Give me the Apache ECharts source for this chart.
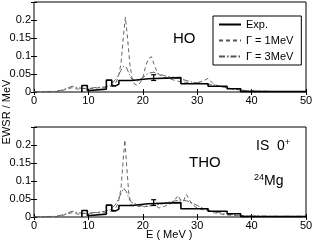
<!DOCTYPE html>
<html><head><meta charset="utf-8">
<script src="https://cdn.jsdelivr.net/npm/echarts@6/dist/echarts.min.js"></script>
<style>html,body{margin:0;padding:0;background:#fff}#c{width:316px;height:245px}</style>
</head><body><div id="c"></div>
<script>
// ---- data ----
const xTicks = [0, 10, 20, 30, 40, 50];
const yTicks = [0, 0.05, 0.1, 0.15, 0.2];
const seriesNames = ['Exp.', '\u0393 = 1MeV', '\u0393 = 3MeV'];

// experimental histogram (bin edges and bin values), same in both panels
const expEdges = [8.8, 9.8, 10.3, 13.3, 14.3, 15.0, 15.6, 18, 21, 27, 32, 35.5, 38, 50];
const expVals  = [0.018, 0.004, 0.008, 0.033, 0.017, 0.022, 0.032, 0.037, 0.04, 0.023, 0.016, 0.009, 0.001];
const errE = [22], errV = [0.04], errD = [0.008];

// HO panel, Gamma = 1 MeV
const hoG1E = [0,2,4,5,6,7,8,9,10,11,12,13,14,15,15.5,16,16.4,16.8,17.2,17.6,18,18.5,19,19.5,20,20.5,21,21.6,22,22.5,23,24,25,26,27,28,29,30,31,32,33,34,35,36,37,38,40,42,45,50];
const hoG1V = [0,0,0.001,0.003,0.008,0.012,0.008,0.01,0.008,0.01,0.012,0.012,0.015,0.025,0.04,0.08,0.15,0.208,0.15,0.08,0.04,0.022,0.018,0.025,0.04,0.07,0.092,0.098,0.08,0.06,0.048,0.04,0.036,0.032,0.028,0.027,0.024,0.026,0.03,0.038,0.022,0.016,0.013,0.01,0.008,0.005,0.003,0.002,0.001,0.001];
// HO panel, Gamma = 3 MeV
const hoG3E = [0,2,4,5,6,7,8,9,10,11,12,13,14,15,16,16.5,17,17.5,18,19,20,21,22,23,24,25,26,27,28,29,30,31,32,33,34,35,36,37,38,40,42,45,50];
const hoG3V = [0,0.001,0.002,0.005,0.01,0.016,0.012,0.01,0.01,0.012,0.013,0.014,0.018,0.035,0.06,0.072,0.068,0.05,0.035,0.03,0.04,0.052,0.055,0.05,0.045,0.042,0.04,0.036,0.032,0.028,0.026,0.024,0.022,0.02,0.016,0.013,0.01,0.007,0.005,0.003,0.002,0.001,0.001];
// THO panel, Gamma = 1 MeV
const thoG1E = [0,2,4,5,6,7,8,9,10,11,12,13,14,15,15.5,16,16.4,16.7,17,17.4,17.8,18.3,19,20,21,22,23,24,25,26,26.5,27,27.5,28,28.5,29,30,31,32,33,34,35,36,37,38,40,42,45,50];
const thoG1V = [0,0,0.001,0.003,0.008,0.012,0.008,0.01,0.01,0.012,0.012,0.012,0.015,0.025,0.04,0.08,0.16,0.214,0.15,0.07,0.035,0.03,0.03,0.028,0.03,0.035,0.025,0.03,0.035,0.05,0.06,0.045,0.045,0.063,0.05,0.035,0.025,0.02,0.018,0.012,0.01,0.006,0.005,0.004,0.003,0.002,0.002,0.001,0.001];
// THO panel, Gamma = 3 MeV
const thoG3E = [0,2,4,5,6,7,8,9,10,11,12,13,14,15,16,16.5,17,17.5,18,19,20,21,22,23,24,25,26,27,28,29,30,31,32,33,34,35,36,38,40,42,45,50];
const thoG3V = [0,0.001,0.002,0.005,0.01,0.016,0.012,0.01,0.01,0.012,0.014,0.016,0.02,0.035,0.065,0.08,0.07,0.05,0.04,0.035,0.03,0.03,0.032,0.035,0.038,0.042,0.045,0.047,0.045,0.04,0.032,0.025,0.02,0.015,0.012,0.009,0.007,0.004,0.003,0.002,0.002,0.002];

// ---- build ----
const pairs = (xs, ys) => xs.map((x, i) => [x, ys[i]]);
const expData = [[expEdges[0], 0]].concat(expEdges.map((e, i) => [e, i < expVals.length ? expVals[i] : expVals[expVals.length - 1]]));
const FONT = 'Liberation Sans, Arial, sans-serif';
const DASH = [4, 3];
const DASHDOT = [6, 2, 1.5, 2];
const THIN = '#555';

function xAx(grid, pos, labels) {
  return {type: 'value', gridIndex: grid, position: pos, min: 0, max: 50, interval: 10,
    axisLine: {show: false}, splitLine: {show: false},
    axisTick: {show: true, inside: true, length: 3, lineStyle: {color: '#000'}},
    axisLabel: {show: labels, color: '#000', fontFamily: FONT, fontSize: 11, margin: 3}};
}
function yAx(grid, pos, labels) {
  return {type: 'value', gridIndex: grid, position: pos, min: 0, max: 0.25, interval: 0.05,
    axisLine: {show: false}, splitLine: {show: false},
    axisTick: {show: true, inside: true, length: 3, lineStyle: {color: '#000'}},
    axisLabel: {show: labels, color: '#000', fontFamily: FONT, fontSize: 11, margin: 3,
      formatter: v => (Math.abs(v - 0.25) < 1e-9 ? '' : String(+v.toFixed(2)))}};
}
function errSeries(ax) {
  return {type: 'custom', xAxisIndex: ax, yAxisIndex: ax, z: 5, silent: true,
    data: errE.map((e, i) => [e, errV[i], errD[i]]),
    renderItem: (p, api) => {
      const x = api.value(0), y = api.value(1), d = api.value(2);
      const a = api.coord([x, y + d]), b = api.coord([x, y - d]);
      const st = {stroke: '#000', lineWidth: 1.2};
      return {type: 'group', children: [
        {type: 'line', shape: {x1: a[0], y1: a[1], x2: b[0], y2: b[1]}, style: st},
        {type: 'line', shape: {x1: a[0] - 2.5, y1: a[1], x2: a[0] + 2.5, y2: a[1]}, style: st},
        {type: 'line', shape: {x1: b[0] - 2.5, y1: b[1], x2: b[0] + 2.5, y2: b[1]}, style: st}
      ]};
    }};
}
function lineSeries(name, ax, data, type, w, color, extra) {
  return Object.assign({name, type: 'line', xAxisIndex: ax, yAxisIndex: ax, data, symbol: 'none', showSymbol: false,
    animation: false, lineStyle: {color, width: w, type}, itemStyle: {color}}, extra || {});
}

const chart = echarts.init(document.getElementById('c'), null, {renderer: 'canvas'});
chart.setOption({
  animation: false,
  backgroundColor: '#fff',
  grid: [
    {left: 34, right: 10, top: 2, height: 90, show: true, borderColor: '#000', borderWidth: 1, backgroundColor: 'transparent'},
    {left: 34, right: 10, top: 127, height: 90, show: true, borderColor: '#000', borderWidth: 1, backgroundColor: 'transparent'}
  ],
  xAxis: [xAx(0, 'bottom', true), xAx(1, 'bottom', true), xAx(0, 'top', false), xAx(1, 'top', false)],
  yAxis: [yAx(0, 'left', true), yAx(1, 'left', true), yAx(0, 'right', false), yAx(1, 'right', false)],
  legend: {
    data: seriesNames, orient: 'vertical', left: 213, top: 16, width: 86,
    backgroundColor: '#fff', borderColor: '#000', borderWidth: 1,
    padding: [3, 8, 3, 5], itemGap: 5, itemWidth: 22, itemHeight: 10,
    itemStyle: {opacity: 0},
    textStyle: {color: '#000', fontFamily: FONT, fontSize: 11}, selectedMode: false
  },
  series: [
    lineSeries(seriesNames[0], 0, expData, 'solid', 1.6, '#000', {step: 'end', z: 4}),
    lineSeries(seriesNames[1], 0, pairs(hoG1E, hoG1V), DASH, 0.9, THIN),
    lineSeries(seriesNames[2], 0, pairs(hoG3E, hoG3V), DASHDOT, 0.9, THIN),
    errSeries(0),
    lineSeries(seriesNames[0], 1, expData, 'solid', 1.6, '#000', {step: 'end', z: 4}),
    lineSeries(seriesNames[1], 1, pairs(thoG1E, thoG1V), DASH, 0.9, THIN),
    lineSeries(seriesNames[2], 1, pairs(thoG3E, thoG3V), DASHDOT, 0.9, THIN),
    errSeries(1)
  ],
  graphic: [
    {type: 'text', left: 173, top: 31, style: {text: 'HO', font: '15px ' + FONT, fill: '#000'}},
    {type: 'text', left: 189, top: 155, style: {text: 'THO', font: '15px ' + FONT, fill: '#000'}},
    {type: 'text', left: 256, top: 138, style: {text: 'IS  0{s|+}', font: '14px ' + FONT, fill: '#000',
      rich: {s: {fontSize: 9, fontFamily: FONT, verticalAlign: 'top', padding: [0, 0, 8, 0]}}}},
    {type: 'text', left: 254, top: 173, style: {text: '{s|24}Mg', font: '14px ' + FONT, fill: '#000',
      rich: {s: {fontSize: 9, fontFamily: FONT, verticalAlign: 'top', padding: [0, 0, 8, 0]}}}},
    {type: 'text', left: 146, top: 229, style: {text: 'E ( MeV )', font: '11px ' + FONT, fill: '#000'}},
    {type: 'text', x: 7, y: 112, rotation: Math.PI / 2, style: {text: 'EWSR / MeV', font: '11px ' + FONT, fill: '#000', textAlign: 'center', textVerticalAlign: 'middle'}}
  ]
});
</script></body></html>
